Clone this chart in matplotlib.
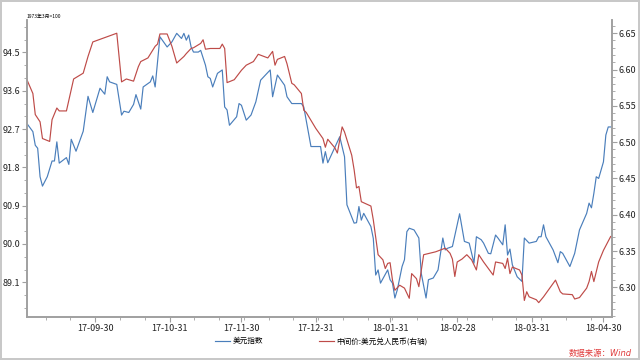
import matplotlib.pyplot as plt
import matplotlib.dates as mdates
from matplotlib.ticker import MultipleLocator, AutoMinorLocator
import pandas as pd

plt.rcParams['font.family'] = ['Noto Sans CJK SC', 'DejaVu Sans']

# 美元指数 (左轴)
usd_dates = ['2017-09-01', '2017-09-04', '2017-09-05', '2017-09-06', '2017-09-07', '2017-09-08',
             '2017-09-10', '2017-09-12', '2017-09-13', '2017-09-14', '2017-09-15', '2017-09-18',
             '2017-09-19', '2017-09-20', '2017-09-22', '2017-09-25', '2017-09-27', '2017-09-29',
             '2017-10-02', '2017-10-04', '2017-10-05', '2017-10-06', '2017-10-09', '2017-10-11',
             '2017-10-12', '2017-10-14', '2017-10-16', '2017-10-17', '2017-10-19', '2017-10-20',
             '2017-10-23', '2017-10-24', '2017-10-25', '2017-10-27', '2017-10-30', '2017-11-01',
             '2017-11-03', '2017-11-05', '2017-11-06', '2017-11-07', '2017-11-08', '2017-11-09',
             '2017-11-10', '2017-11-12', '2017-11-13', '2017-11-15', '2017-11-16', '2017-11-17',
             '2017-11-18', '2017-11-20', '2017-11-22', '2017-11-23', '2017-11-24', '2017-11-25',
             '2017-11-28', '2017-11-29', '2017-11-30', '2017-12-02', '2017-12-04', '2017-12-06',
             '2017-12-08', '2017-12-10', '2017-12-12', '2017-12-13', '2017-12-15', '2017-12-18',
             '2017-12-19', '2017-12-21', '2017-12-25', '2017-12-26', '2017-12-29', '2018-01-02',
             '2018-01-03', '2018-01-04', '2018-01-05', '2018-01-10', '2018-01-12', '2018-01-13',
             '2018-01-16', '2018-01-17', '2018-01-18', '2018-01-19', '2018-01-20', '2018-01-23',
             '2018-01-24', '2018-01-25', '2018-01-26', '2018-01-27', '2018-01-30', '2018-01-31',
             '2018-02-01', '2018-02-02', '2018-02-03', '2018-02-05', '2018-02-06', '2018-02-07',
             '2018-02-08', '2018-02-10', '2018-02-12', '2018-02-13', '2018-02-15', '2018-02-16',
             '2018-02-18', '2018-02-20', '2018-02-22', '2018-02-23', '2018-02-24', '2018-02-26',
             '2018-03-01', '2018-03-03', '2018-03-05', '2018-03-07', '2018-03-08', '2018-03-10',
             '2018-03-11', '2018-03-13', '2018-03-14', '2018-03-16', '2018-03-17', '2018-03-19',
             '2018-03-20', '2018-03-21', '2018-03-22', '2018-03-23', '2018-03-25', '2018-03-27',
             '2018-03-28', '2018-03-30', '2018-04-02', '2018-04-03', '2018-04-04', '2018-04-05',
             '2018-04-06', '2018-04-09', '2018-04-11', '2018-04-12', '2018-04-13', '2018-04-16',
             '2018-04-18', '2018-04-20', '2018-04-23', '2018-04-24', '2018-04-25', '2018-04-26',
             '2018-04-27', '2018-04-28', '2018-04-30', '2018-05-01', '2018-05-02', '2018-05-03']
usd_index = [92.87, 92.64, 92.32, 92.25, 91.58, 91.36,
             91.58, 91.95, 91.95, 92.40, 91.90, 92.03,
             91.87, 92.46, 92.18, 92.65, 93.47, 93.09,
             93.66, 93.52, 93.93, 93.81, 93.75, 93.03,
             93.12, 93.09, 93.28, 93.51, 93.17, 93.69,
             93.81, 93.95, 93.69, 94.87, 94.63, 94.75,
             94.95, 94.83, 94.95, 94.79, 94.91, 94.63,
             94.51, 94.51, 94.55, 94.20, 93.93, 93.89,
             93.69, 94.01, 94.09, 93.22, 93.15, 92.79,
             92.99, 93.30, 93.26, 92.91, 93.03, 93.34,
             93.85, 93.97, 94.09, 93.46, 93.97, 93.73,
             93.46, 93.30, 93.30, 93.22, 92.29, 92.29,
             91.90, 92.17, 91.91, 92.52, 92.05, 90.92,
             90.49, 90.50, 90.88, 90.56, 90.72, 90.41,
             90.13, 89.27, 89.39, 89.08, 89.39, 89.16,
             89.08, 88.73, 88.92, 89.47, 89.63, 90.29,
             90.37, 90.33, 90.14, 89.31, 88.73, 89.16,
             89.20, 89.39, 90.14, 89.86, 89.90, 89.94,
             90.71, 90.06, 90.02, 89.55, 90.17, 90.10,
             90.02, 89.78, 89.77, 90.21, 90.14, 89.98,
             90.45, 89.74, 89.88, 89.51, 89.23, 89.12,
             90.14, 90.02, 90.06, 90.17, 90.17, 90.45,
             90.17, 89.86, 89.56, 89.82, 89.78, 89.47,
             89.78, 90.33, 90.72, 90.96, 90.85, 91.19,
             91.58, 91.54, 91.93, 92.56, 92.75, 92.75]

# 中间价:美元兑人民币 (右轴)
cny_dates = ['2017-09-01', '2017-09-04', '2017-09-05', '2017-09-07', '2017-09-08', '2017-09-11',
             '2017-09-12', '2017-09-14', '2017-09-15', '2017-09-18', '2017-09-21', '2017-09-25',
             '2017-09-27', '2017-09-29', '2017-10-09', '2017-10-11', '2017-10-13', '2017-10-16',
             '2017-10-18', '2017-10-19', '2017-10-22', '2017-10-25', '2017-10-26', '2017-10-27',
             '2017-10-30', '2017-11-01', '2017-11-03', '2017-11-06', '2017-11-07', '2017-11-09',
             '2017-11-10', '2017-11-13', '2017-11-14', '2017-11-15', '2017-11-17', '2017-11-21',
             '2017-11-22', '2017-11-23', '2017-11-24', '2017-11-27', '2017-11-30', '2017-12-02',
             '2017-12-05', '2017-12-07', '2017-12-11', '2017-12-13', '2017-12-14', '2017-12-15',
             '2017-12-18', '2017-12-19', '2017-12-21', '2017-12-22', '2017-12-25', '2017-12-26',
             '2017-12-27', '2017-12-31', '2018-01-03', '2018-01-04', '2018-01-05', '2018-01-08',
             '2018-01-09', '2018-01-11', '2018-01-12', '2018-01-15', '2018-01-16', '2018-01-17',
             '2018-01-18', '2018-01-19', '2018-01-23', '2018-01-24', '2018-01-26', '2018-01-28',
             '2018-01-29', '2018-01-30', '2018-01-31', '2018-02-01', '2018-02-02', '2018-02-04',
             '2018-02-06', '2018-02-08', '2018-02-09', '2018-02-11', '2018-02-12', '2018-02-14',
             '2018-02-19', '2018-02-23', '2018-02-25', '2018-02-26', '2018-02-27', '2018-02-28',
             '2018-03-02', '2018-03-04', '2018-03-06', '2018-03-08', '2018-03-09', '2018-03-11',
             '2018-03-13', '2018-03-15', '2018-03-16', '2018-03-19', '2018-03-20', '2018-03-21',
             '2018-03-22', '2018-03-23', '2018-03-26', '2018-03-27', '2018-03-28', '2018-03-29',
             '2018-03-30', '2018-04-02', '2018-04-03', '2018-04-05', '2018-04-10', '2018-04-12',
             '2018-04-13', '2018-04-17', '2018-04-18', '2018-04-20', '2018-04-23', '2018-04-24',
             '2018-04-25', '2018-04-26', '2018-04-28', '2018-04-30', '2018-05-03']
cny_mid = [6.590, 6.567, 6.538, 6.528, 6.505, 6.501,
           6.531, 6.547, 6.543, 6.543, 6.587, 6.595,
           6.618, 6.638, 6.650, 6.583, 6.587, 6.584,
           6.604, 6.611, 6.616, 6.632, 6.635, 6.649,
           6.649, 6.632, 6.609, 6.618, 6.622, 6.629,
           6.630, 6.636, 6.641, 6.628, 6.629, 6.629,
           6.635, 6.629, 6.582, 6.586, 6.599, 6.606,
           6.611, 6.621, 6.616, 6.625, 6.606, 6.614,
           6.618, 6.608, 6.581, 6.579, 6.567, 6.544,
           6.541, 6.519, 6.505, 6.493, 6.504, 6.492,
           6.485, 6.521, 6.514, 6.482, 6.462, 6.437,
           6.439, 6.418, 6.412, 6.393, 6.345, 6.338,
           6.326, 6.333, 6.334, 6.310, 6.296, 6.303,
           6.299, 6.285, 6.319, 6.312, 6.301, 6.345,
           6.349, 6.354, 6.347, 6.339, 6.315, 6.335,
           6.339, 6.345, 6.338, 6.324, 6.345, 6.335,
           6.326, 6.317, 6.335, 6.333, 6.326, 6.340,
           6.319, 6.328, 6.324, 6.317, 6.282, 6.294,
           6.287, 6.283, 6.279, 6.287, 6.310, 6.294,
           6.291, 6.290, 6.284, 6.286, 6.299, 6.308,
           6.322, 6.308, 6.335, 6.351, 6.370]

tick_dates = ['2017-09-30', '2017-10-31', '2017-11-30', '2017-12-31',
              '2018-01-31', '2018-02-28', '2018-03-31', '2018-04-30']
left_ticks = [89.1, 90.0, 90.9, 91.8, 92.7, 93.6, 94.5]
right_ticks = [6.30, 6.35, 6.40, 6.45, 6.50, 6.55, 6.60, 6.65]

blue = '#4a7ebb'
red = '#be4b48'
axis_gray = '#a0a0a0'

fig = plt.figure(figsize=(6.4, 3.6), dpi=100)
fig.patch.set_edgecolor('#c8c8c8')
fig.patch.set_linewidth(1.5)
ax = fig.add_axes([0.042, 0.119, 0.914, 0.825])
ax2 = ax.twinx()

l1, = ax.plot(pd.to_datetime(usd_dates), usd_index, color=blue, linewidth=0.85, label='美元指数')
l2, = ax2.plot(pd.to_datetime(cny_dates), cny_mid, color=red, linewidth=0.85, label='中间价:美元兑人民币(右轴)')

ax.set_xlim(pd.Timestamp('2017-09-01 12:00'), pd.Timestamp('2018-05-03 12:00'))
ax.set_ylim(88.28, 95.26)
ax2.set_ylim(6.259, 6.668)

ax.set_xticks(pd.to_datetime(tick_dates))
ax.xaxis.set_major_formatter(mdates.DateFormatter('%y-%m-%d'))
ax.xaxis.set_minor_locator(AutoMinorLocator(3))
ax.set_yticks(left_ticks)
ax.set_yticklabels([f'{v:.1f}' for v in left_ticks])
ax.yaxis.set_minor_locator(MultipleLocator(0.3))
ax2.set_yticks(right_ticks)
ax2.set_yticklabels([f'{v:.2f}' for v in right_ticks])
ax2.yaxis.set_minor_locator(MultipleLocator(0.01))

for a in (ax, ax2):
    a.spines['top'].set_visible(False)
    for s in ('left', 'right', 'bottom'):
        a.spines[s].set_color(axis_gray)
        a.spines[s].set_linewidth(1.2)
    a.tick_params(which='major', length=3.5, width=0.8, color=axis_gray, labelsize=6.5, labelcolor='#222222', pad=1.5)
    a.tick_params(which='minor', length=2, width=0.6, color=axis_gray)

ax.text(0.0, 1.005, '1973年3月=100', transform=ax.transAxes, fontsize=3.5, va='bottom', ha='left')

fig.legend([l1, l2], ['美元指数', '中间价:美元兑人民币(右轴)'], loc='center', ncol=2,
           bbox_to_anchor=(0.502, 0.052), frameon=False, fontsize=5.5, handlelength=2.0,
           columnspacing=7.3, handletextpad=0.3)

fig.text(0.988, 0.018, '数据来源：Wind', color='#e03c3c', fontsize=6, style='italic',
         family=['DejaVu Sans', 'Noto Sans CJK SC'], ha='right', va='center')

fig.savefig('out.png', dpi=100)
